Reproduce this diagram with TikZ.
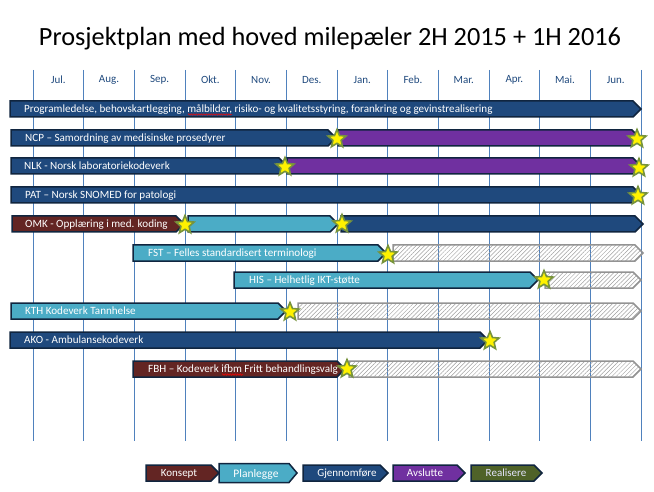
\documentclass[tikz,border=0pt]{standalone}
\usepackage{fontspec}
\setmainfont{Carlito}
\usetikzlibrary{shapes.geometric, patterns.meta, decorations.pathmorphing}

\begin{document}
\begin{tikzpicture}[
  x=1pt, y=-1pt,
  font=\fontsize{11.1}{12}\selectfont,
]

\definecolor{cNavy}  {HTML}{1F497D}
\definecolor{cPurple}{HTML}{7030A0}
\definecolor{cLight} {HTML}{4BACC6}
\definecolor{cMaroon}{HTML}{632523}
\definecolor{cOlive} {HTML}{4F6228}
\definecolor{cEdge}  {HTML}{10253F}
\definecolor{cGrid}  {HTML}{4F81BD}
\definecolor{cStar}  {HTML}{77933C}
\definecolor{cMonth} {HTML}{1F497D}

\tikzset{
  pNavy/.style   ={fill=cNavy,   draw=cEdge, line width=1.5pt},
  pPurple/.style ={fill=cPurple, draw=cEdge, line width=1.5pt},
  pLight/.style  ={fill=cLight,  draw=cEdge, line width=1.5pt},
  pMaroon/.style ={fill=cMaroon, draw=cEdge, line width=1.5pt},
  pOlive/.style  ={fill=cOlive,  draw=cEdge, line width=1.5pt},
  pHatch/.style  ={draw=gray!85, line width=1.5pt,
                   pattern={Lines[angle=45, distance=3pt, line width=0.5pt]},
                   pattern color=gray!75},
  barlabel/.style={text=white, anchor=base west, inner sep=0pt},
  milestone/.style={star, star points=5, star point ratio=2.2,
                    minimum size=19pt, inner sep=0pt,
                    fill=yellow, draw=cStar, line width=1.6pt},
  spellmark/.style={draw=red, line width=0.5pt,
                    decorate, decoration={snake, amplitude=0.7pt, segment length=2.5pt}},
  keylabel/.style={text=white, anchor=base, font=\fontsize{11}{12}\selectfont},
}

\useasboundingbox (0,0) rectangle (654,492);

% =====================================================================
% Title
% =====================================================================
\node[font=\fontsize{26.3}{29}\selectfont] (title) at (330,39)
  {Prosjektplan med hoved milepæler 2H 2015 + 1H 2016};

% =====================================================================
% Month grid
% =====================================================================
\pgfmathsetmacro{\gx}{33}
\pgfmathsetmacro{\mw}{50.67}

\foreach \k in {0,...,12}{
  \draw[cGrid, line width=1pt] (\gx + \k*\mw, 70) -- (\gx + \k*\mw, 441);
}

\foreach \m [count=\k from 0] in {Jul., Aug., Sep., Okt., Nov., Des.,
                                  Jan., Feb., Mar., Apr., Mai., Jun.}{
  \node[text=cMonth, font=\fontsize{11}{12}\selectfont]
    (m\k) at (\gx + \k*\mw + 0.5*\mw, 80) {\m};
}

% =====================================================================
% Phase bars: start / tip / row centre / style
% =====================================================================
\pgfmathsetmacro{\hh}{8}   % half height
\pgfmathsetmacro{\tp}{8}   % tip depth

\foreach \xa/\xb/\yc/\sty in {
   10/641/109/pNavy,
   11/336/138/pNavy,    338/640/138/pPurple,
   11/287/166/pNavy,    287/641/166/pPurple,
   11/641/195/pNavy,
   12/184/224/pMaroon,  188/338/224/pLight,   341/643/224/pNavy,
  133/386/253/pLight,   393/643/253/pHatch,
  234/538/280/pLight,   545/641/280/pHatch,
   11/286/311/pLight,   298/641/311/pHatch,
   10/488/340/pNavy,
  133/345/369/pMaroon,  349/641/369/pHatch}{
  \draw[\sty] (\xa,\yc-\hh) -- (\xb-\tp,\yc-\hh) -- (\xb,\yc)
              -- (\xb-\tp,\yc+\hh) -- (\xa,\yc+\hh) -- cycle;
}

% labels (baseline sits 3.8 below the row centre)
\node[barlabel] (lPRG) at (24,112.8)
  {Programledelse, behovskartlegging, målbilder, risiko- og kvalitetsstyring, forankring og gevinstrealisering};
\node[barlabel] (lNCP) at (25,141.8) {NCP – Samordning av medisinske prosedyrer};
\node[barlabel] (lNLK) at (24,169.8) {NLK - Norsk laboratoriekodeverk};
\node[barlabel] (lPAT) at (25,198.8) {PAT – Norsk SNOMED for patologi};
\node[barlabel] (lOMK) at (25,227.8) {OMK - Opplæring i med. koding};
\node[barlabel] (lFST) at (148,256.8) {FST – Felles standardisert terminologi};
\node[barlabel] (lHIS) at (249,283.8) {HIS – Helhetlig IKT-støtte};
\node[barlabel] (lKTH) at (25,314.8) {KTH Kodeverk Tannhelse};
\node[barlabel] (lAKO) at (24,343.8) {AKO - Ambulansekodeverk};
\node[barlabel] (lFBH) at (148,372.8) {FBH – Kodeverk ifbm Fritt behandlingsvalg};

% spell-check marks
\draw[spellmark] (188,114.5) -- (232,114.5);
\draw[spellmark] (222,374.5) -- (243,374.5);

% =====================================================================
% Milestones
% =====================================================================
\foreach \sx/\sy [count=\n] in {337/139, 637/139, 285/167, 639/168,
                                638/196, 185/225, 342/224, 388/255,
                                544/280, 290/312, 490/341, 347/369}{
  \node[milestone] (ms\n) at (\sx,\sy) {};
}

% =====================================================================
% Legend
% =====================================================================
\pgfmathsetmacro{\ly}{473}

\foreach \xa/\xb/\sty/\h in {146/219/pMaroon/8, 219/297/pLight/9.5,
                             303/388/pNavy/8, 393/465/pPurple/8,
                             471/542/pOlive/8}{
  \draw[\sty] (\xa,\ly-\h) -- (\xb-\tp,\ly-\h) -- (\xb,\ly)
              -- (\xb-\tp,\ly+\h) -- (\xa,\ly+\h) -- cycle;
}

\node[keylabel] (kKON) at (179,\ly+3.3) {Konsept};
\node[keylabel, font=\fontsize{11.5}{12}\selectfont] (kPLA) at (256,\ly+4.8) {Planlegge};
\node[keylabel] (kGJE) at (347,\ly+3.3) {Gjennomføre};
\node[keylabel] (kAVS) at (425,\ly+3.3) {Avslutte};
\node[keylabel, text=blue!10!white] (kREA) at (506,\ly+3.3) {Realisere};

\end{tikzpicture}
\end{document}
